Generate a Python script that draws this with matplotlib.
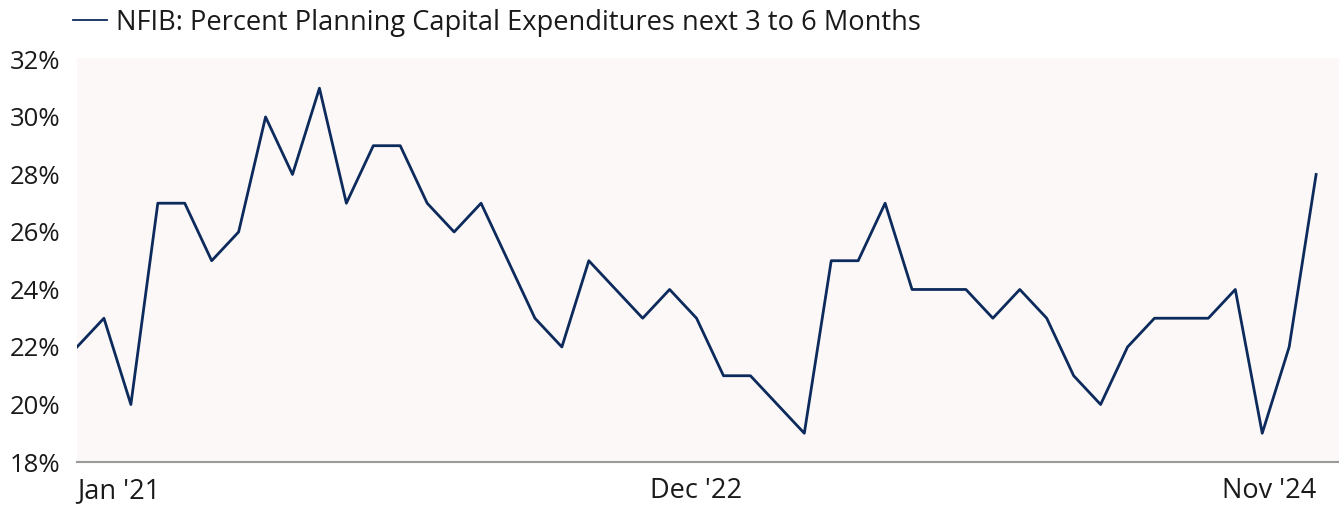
import matplotlib
matplotlib.use("Agg")
import matplotlib.pyplot as plt  # noqa: E402

# Monthly values, Jan 2021 .. Nov 2024 (percent)
months = ["Jan '21", "Feb '21", "Mar '21", "Apr '21", "May '21", "Jun '21", "Jul '21", "Aug '21",
          "Sep '21", "Oct '21", "Nov '21", "Dec '21", "Jan '22", "Feb '22", "Mar '22", "Apr '22",
          "May '22", "Jun '22", "Jul '22", "Aug '22", "Sep '22", "Oct '22", "Nov '22", "Dec '22",
          "Jan '23", "Feb '23", "Mar '23", "Apr '23", "May '23", "Jun '23", "Jul '23", "Aug '23",
          "Sep '23", "Oct '23", "Nov '23", "Dec '23", "Jan '24", "Feb '24", "Mar '24", "Apr '24",
          "May '24", "Jun '24", "Jul '24", "Aug '24", "Sep '24", "Oct '24", "Nov '24"]
capex_plans = [22, 23, 20, 27, 27, 25, 26, 30, 28, 31, 27, 29, 29, 27, 26, 27,
               25, 23, 22, 25, 24, 23, 24, 23, 21, 21, 20, 19, 25, 25, 27, 24,
               24, 24, 23, 24, 23, 21, 20, 22, 23, 23, 23, 24, 19, 22, 28]
tick_labels = ["Jan '21", "Dec '22", "Nov '24"]
y_ticks = [18, 20, 22, 24, 26, 28, 30, 32]

plt.rcParams['font.family'] = ['Open Sans', 'DejaVu Sans']

fig = plt.figure(figsize=(13.39, 5.07), dpi=100)
ax = fig.add_axes([77 / 1339, 45 / 507, 1 - 77 / 1339, 404 / 507])
ax.set_facecolor("#fbf8f7")

x = list(range(len(capex_plans)))
line, = ax.plot(x, capex_plans, color="#0d2a5c", linewidth=2.0,
                label="NFIB: Percent Planning Capital Expenditures next 3 to 6 Months")

ax.set_xlim(0, len(x) - 1 + 0.85)
ax.set_ylim(18, 32.05)
ax.set_yticks(y_ticks)
ax.set_yticklabels([f"{v}%" for v in y_ticks])

tick_pos = [months.index(t) for t in tick_labels]
ax.set_xticks(tick_pos)
ax.set_xticklabels(tick_labels)
for lbl, ha in zip(ax.get_xticklabels(), ["left", "center", "right"]):
    lbl.set_ha(ha)

ax.tick_params(axis="both", length=0, colors="#1a1a1a")
ax.tick_params(axis="y", pad=12, labelsize=18.5)
ax.tick_params(axis="x", pad=11, labelsize=19.5)

for side in ["top", "right", "left"]:
    ax.spines[side].set_visible(False)
ax.spines["bottom"].set_color("#9a9a9a")
ax.spines["bottom"].set_linewidth(1.5)

leg = fig.legend(handles=[line], loc="upper left", bbox_to_anchor=(57 / 1339, 1.015),
                 frameon=False, fontsize=19.6, handlelength=1.25, handletextpad=0.3,
                 labelcolor="#1a1a1a", borderaxespad=0.2)
leg.get_lines()[0].set_linewidth(1.3)

fig.savefig("out.png", dpi=100)
plt.close(fig)
